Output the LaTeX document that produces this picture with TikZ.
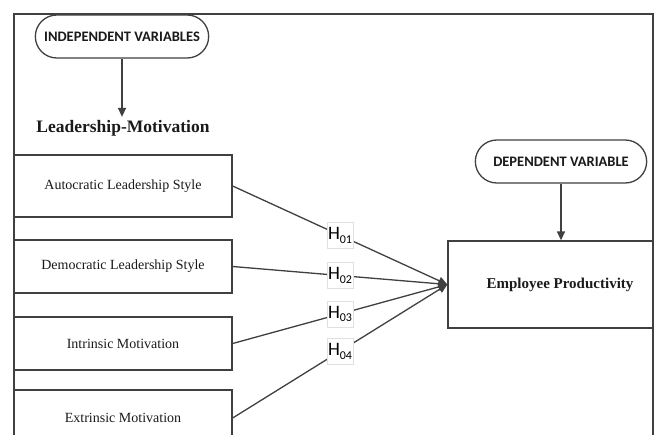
\documentclass[tikz,border=0pt]{standalone}
\usepackage{fontspec}
\setmainfont{Liberation Serif}
\newfontfamily\calfont{Carlito}
\usetikzlibrary{arrows.meta,shapes.misc}
\definecolor{ink}{HTML}{404040}
\definecolor{txt}{HTML}{1A1A1A}
\begin{document}
\begin{tikzpicture}[x=1pt,y=-1pt,
  ln/.style={draw=ink,line width=1.3pt},
  arr/.style={ln,-{Triangle[length=9pt,width=8pt]}},
  varbox/.style={draw=ink,line width=1.3pt,fill=white,minimum width=218pt,text=txt,font=\fontsize{14}{16}\selectfont},
  pill/.style={rounded rectangle,draw=ink,line width=1.3pt,fill=white,text=txt,font=\calfont\bfseries\fontsize{14.5}{16}\selectfont},
  hbox/.style={draw=black!12,line width=0.6pt,fill=white,minimum width=26pt,minimum height=26pt,inner sep=0pt,text=black,font=\calfont\fontsize{19}{19}\selectfont}]
\useasboundingbox (0,0) rectangle (660,434);
\fill[white] (0,0) rectangle (660,434);
\clip (0,0) rectangle (660,434);
% independent side
\node[pill,minimum width=180pt,minimum height=43pt] (ind) at (122,36.5) {INDEPENDENT VARIABLES};
\node[font=\bfseries\fontsize{17.5}{20}\selectfont,text=txt,inner sep=3pt] (lead) at (123,128) {Leadership-Motivation};
\draw[arr] (ind.south) -- (ind.south |- lead.north);
\node[varbox,minimum height=62pt] (b1) at (123,186) {Autocratic Leadership Style};
\node[varbox,minimum height=53pt] (b2) at (123,266.5) {Democratic Leadership Style};
\node[varbox,minimum height=53pt] (b3) at (123,343.5) {Intrinsic Motivation};
\node[varbox,minimum height=62pt] (b4) at (123,421) {};
\node[text=txt,font=\fontsize{14}{16}\selectfont] (b4t) at (123,418) {Extrinsic Motivation};
% dependent side
\node[pill,minimum width=178pt,minimum height=43pt] (dep) at (561,161.5) {DEPENDENT VARIABLE};
\begin{scope}
\clip (0,0) rectangle (653,434);
\node[varbox,minimum width=224pt,minimum height=87pt,font=\bfseries\fontsize{15}{17}\selectfont] (emp) at (560,284.5) {Employee Productivity};
\end{scope}
\draw[arr] (dep.south) -- (dep.south |- emp.north);
% frame
\draw[draw=ink,line width=1.3pt] (14,440) -- (14,14) -- (653,14) -- (653,440);
% hypotheses
\draw[arr] (b1.east) -- (emp.west);
\draw[arr] (b2.east) -- (emp.west);
\draw[arr] (b3.east) -- (emp.west);
\draw[arr] (b4.east |- b4t) -- (emp.west);
\path (b1.east) -- (emp.west) node[pos=0.5,hbox] (h1) {H\raisebox{-3.5pt}{\fontsize{12}{12}\selectfont 01}};
\path (b2.east) -- (emp.west) node[pos=0.5,hbox] (h2) {H\raisebox{-3.5pt}{\fontsize{12}{12}\selectfont 02}};
\path (b3.east) -- (emp.west) node[pos=0.5,hbox] (h3) {H\raisebox{-3.5pt}{\fontsize{12}{12}\selectfont 03}};
\path (b4.east |- b4t) -- (emp.west) node[pos=0.5,hbox] (h4) {H\raisebox{-3.5pt}{\fontsize{12}{12}\selectfont 04}};
\end{tikzpicture}
\end{document}
